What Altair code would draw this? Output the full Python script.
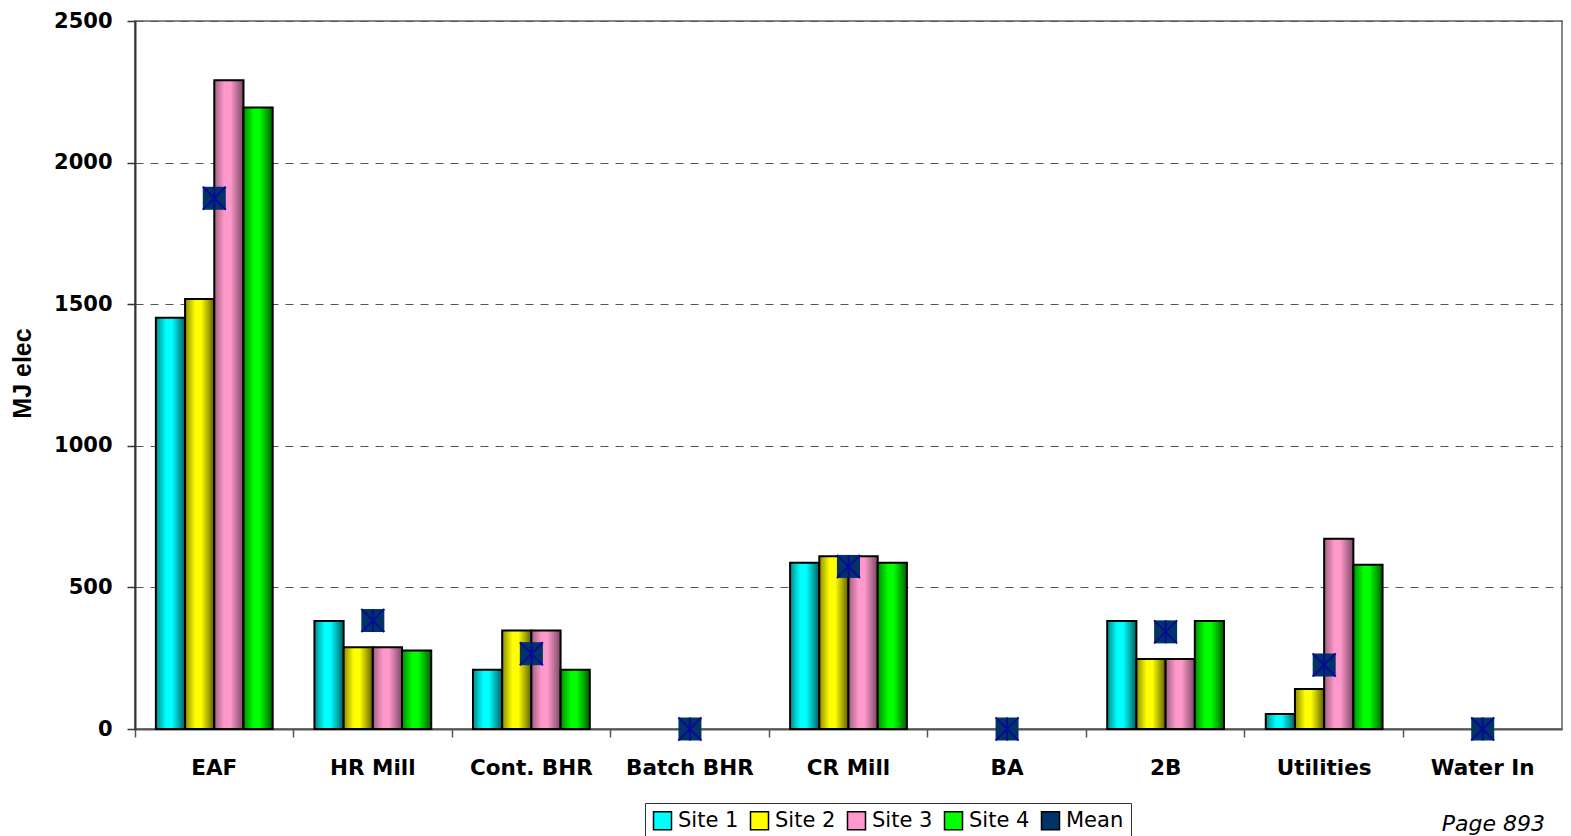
import altair as alt
import pandas as pd

categories = ["EAF", "HR Mill", "Cont. BHR", "Batch BHR", "CR Mill", "BA", "2B", "Utilities", "Water In"]
sites = ["Site 1", "Site 2", "Site 3", "Site 4"]
site1 = [1452, 381, 209, 0, 587, 0, 381, 53, 0]
site2 = [1518, 289, 348, 0, 610, 0, 247, 141, 0]
site3 = [2291, 289, 348, 0, 610, 0, 247, 672, 0]
site4 = [2195, 277, 209, 0, 587, 0, 381, 580, 0]
mean = [1874, 383, 266, 0, 574, 0, 343, 226, 0]
page_note = ["Page 893"]

site_colors = ["#00FFFF", "#FFFF00", "#FF99CC", "#00FF00"]
mean_color = "#003366"

rows = []
for s, vals in zip(sites, [site1, site2, site3, site4]):
    for c, v in zip(categories, vals):
        rows.append({"category": c, "series": s, "value": v})
bars_df = pd.DataFrame(rows)
mean_df = pd.DataFrame({"category": categories, "series": ["Mean"] * len(categories), "value": mean})
note_df = pd.DataFrame({"note": page_note})

gradients = {
    "Site 1": ["#008c8c", "#00ffff", "#00ffff", "#005f5f"],
    "Site 2": ["#8c8c00", "#ffff00", "#ffff00", "#5f5f00"],
    "Site 3": ["#a0607f", "#ff99cc", "#ff99cc", "#7a4862"],
    "Site 4": ["#008c00", "#00ff00", "#00ff00", "#005f00"],
}

x_enc = alt.X(
    "category:N",
    sort=categories,
    scale=alt.Scale(domain=categories, paddingInner=0, paddingOuter=0),
    axis=alt.Axis(
        title=None,
        labelAngle=0,
        bandPosition=0,
        labelFont="DejaVu Sans",
        labelFontWeight="bold",
        labelFontSize=21.5,
        labelColor="black",
        labelPadding=20,
        tickSize=8,
        tickColor="#555",
        tickWidth=1.5,
        domainColor="#555",
        domainWidth=2,
        grid=False,
    ),
)
y_enc = alt.Y(
    "value:Q",
    scale=alt.Scale(domain=[0, 2500], nice=False),
    axis=alt.Axis(
        title="MJ elec",
        values=[0, 500, 1000, 1500, 2000, 2500],
        format="d",
        labelFont="DejaVu Sans",
        labelFontWeight="bold",
        labelFontSize=21,
        labelColor="black",
        labelPadding=15,
        tickSize=8,
        tickColor="#333",
        tickWidth=1.5,
        domainColor="#333",
        domainWidth=2,
        grid=True,
        gridColor="#555",
        gridDash=[8, 7],
        gridWidth=1,
        titleFont="Liberation Sans",
        titleFontWeight="bold",
        titleFontSize=25,
        titleColor="black",
        titleAngle=-90,
        titleAlign="center",
        titleBaseline="middle",
        titleX=-113,
        titleY=352,
    ),
)

layers = []
for s in sites:
    st = gradients[s]
    grad = alt.Gradient(
        gradient="linear",
        x1=0, x2=1, y1=0, y2=0,
        stops=[
            alt.GradientStop(color=st[0], offset=0),
            alt.GradientStop(color=st[1], offset=0.35),
            alt.GradientStop(color=st[2], offset=0.55),
            alt.GradientStop(color=st[3], offset=1),
        ],
    )
    layer = (
        alt.Chart(bars_df)
        .transform_filter((alt.datum.series == s) & (alt.datum.value > 0))
        .mark_bar(fill=grad, stroke="black", strokeWidth=2)
        .encode(
            x=x_enc,
            xOffset=alt.XOffset("series:N", scale=alt.Scale(domain=sites, paddingInner=0, paddingOuter=0.715)),
            y=y_enc,
        )
    )
    layers.append(layer)

mean_sq = (
    alt.Chart(mean_df)
    .mark_square(size=529, opacity=1)
    .encode(
        x=x_enc,
        y=y_enc,
        color=alt.Color(
            "series:N",
            scale=alt.Scale(domain=sites + ["Mean"], range=site_colors + [mean_color]),
            legend=alt.Legend(
                title=None,
                orient="none",
                direction="horizontal",
                legendX=510,
                legendY=782,
                symbolType="square",
                symbolSize=324,
                symbolStrokeColor="black",
                symbolStrokeWidth=1.5,
                symbolOpacity=1,
                labelFont="DejaVu Sans",
                labelFontSize=21,
                labelColor="black",
                labelOffset=5,
                columnPadding=8,
                padding=7,
                strokeColor="#333",
                fillColor="white",
            ),
        ),
    )
)
mean_x = (
    alt.Chart(mean_df)
    .mark_point(
        shape="M-1,-1L1,1M-1,1L1,-1M0,-1L0,1",
        size=529,
        filled=False,
        stroke="#0a0a99",
        strokeWidth=2,
        opacity=1,
    )
    .encode(x=x_enc, y=y_enc)
)

note = (
    alt.Chart(note_df)
    .mark_text(
        font="DejaVu Sans",
        fontStyle="italic",
        fontSize=22,
        color="black",
        align="right",
        baseline="alphabetic",
    )
    .encode(text="note:N", x=alt.value(1410), y=alt.value(810))
)

chart = (
    alt.layer(*layers, mean_sq, mean_x, note)
    .properties(
        width=1427,
        height=708,
        autosize=alt.AutoSizeParams(type="none"),
        padding={"left": 127, "top": 13, "right": 1, "bottom": 107},
        background="white",
    )
    .configure_view(stroke="#888", strokeWidth=2)
)

chart.save("out.html", embed_options={"renderer": "svg", "actions": False})
